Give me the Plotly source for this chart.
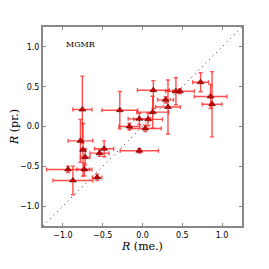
import plotly.graph_objects as go

# measured R (x), predicted R (y), with asymmetric error bars
x = [-0.755, -0.285, -0.78, -0.747, -0.72, -0.73, -0.936, -0.874, -0.57, -0.54, -0.482,
     -0.165, -0.04, 0.035, -0.04, 0.07, 0.128, 0.136, 0.29, 0.32, 0.42, 0.47, 0.73, 0.855, 0.874]
y = [0.213, 0.205, -0.18, -0.293, -0.385, -0.54, -0.54, -0.678, -0.64, -0.335, -0.28,
     0.0, 0.096, -0.025, -0.305, 0.09, 0.18, 0.456, 0.335, 0.245, 0.443, 0.443, 0.556, 0.377, 0.28]
xerr = [0.12, 0.225, 0.155, 0.03, 0.06, 0.095, 0.27, 0.25, 0.06, 0.12, 0.12,
        0.13, 0.14, 0.2, 0.24, 0.18, 0.2, 0.2, 0.1, 0.155, 0.04, 0.18, 0.1, 0.205, 0.124]
yerr_up = [0.42, 0.235, 0.27, 0.33, 0.1, 0.08, 0.04, 0.18, 0.04, 0.04, 0.1,
           0.04, 0.07, 0.04, 0.03, 0.08, 0.2, 0.12, 0.04, 0.34, 0.17, 0.03, 0.12, 0.15, 0.41]
yerr_dn = [0.42, 0.235, 0.27, 0.33, 0.1, 0.08, 0.04, 0.18, 0.04, 0.04, 0.1,
           0.04, 0.07, 0.04, 0.03, 0.08, 0.2, 0.23, 0.04, 0.34, 0.17, 0.03, 0.12, 0.15, 0.41]
diag = [-1.25, 1.25]
tick_vals = [-1.0, -0.5, 0.0, 0.5, 1.0]
tick_text = ["\u22121.0", "\u22120.5", "0.0", "0.5", "1.0"]

fig = go.Figure()
fig.add_trace(go.Scatter(x=diag, y=diag, mode="lines",
                         line=dict(color="#333333", width=1, dash="1px,4px"),
                         hoverinfo="skip", showlegend=False))
fig.add_trace(go.Scatter(
    x=x, y=y, mode="markers",
    marker=dict(symbol="triangle-up", size=6, color="#cc0000",
                line=dict(color="#550000", width=0.6)),
    error_x=dict(type="data", array=xerr, color="rgba(255,20,20,0.75)", thickness=1.4, width=2),
    error_y=dict(type="data", array=yerr_up, arrayminus=yerr_dn, symmetric=False,
                 color="rgba(255,20,20,0.75)", thickness=1.4, width=2),
    showlegend=False))

axis_common = dict(range=[-1.25, 1.25], tickvals=tick_vals, ticktext=tick_text,
                   ticks="inside", ticklen=3, tickcolor="#888888",
                   showline=True, linecolor="#888888", linewidth=2, mirror="ticks",
                   showgrid=False, zeroline=False, automargin=False,
                   tickfont=dict(family="DejaVu Sans", size=8, color="black"))

fig.update_layout(
    width=261, height=261,
    margin=dict(l=35, r=27, t=19, b=43),
    paper_bgcolor="white", plot_bgcolor="white",
    xaxis=dict(**axis_common,
               title=dict(text="<i>R</i> (me.)", standoff=2,
                          font=dict(family="DejaVu Serif", size=11, color="black"))),
    yaxis=dict(**axis_common,
               title=dict(text="<i>R</i> (pr.)", standoff=4,
                          font=dict(family="DejaVu Serif", size=11, color="black"))),
    annotations=[dict(x=-0.99, y=1.03, xref="x", yref="y", text="MGMR", showarrow=False,
                      xanchor="left", yanchor="middle",
                      font=dict(family="DejaVu Serif", size=8, color="black"))],
)

fig.write_html("out.html")
